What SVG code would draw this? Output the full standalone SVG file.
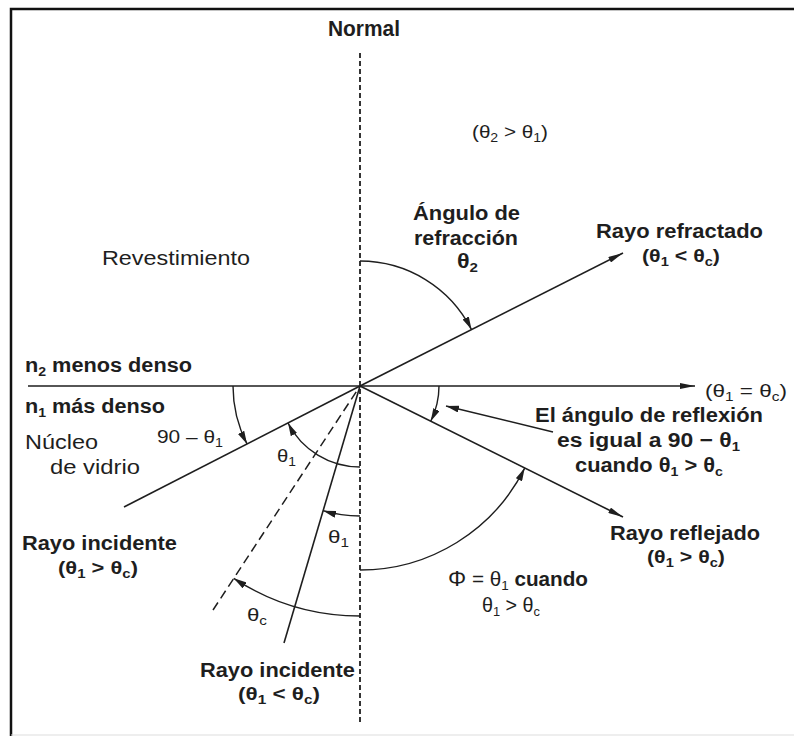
<svg xmlns="http://www.w3.org/2000/svg" width="794" height="736" viewBox="0 0 794 736">
<defs>
<style>
text{font-family:"Liberation Sans",Arial,sans-serif;fill:#1e1e1e}
.b{font-weight:bold;font-size:20px}
.r{font-weight:normal;font-size:20px}
.s{font-size:13px}
.ln{stroke:#1e1e1e;stroke-width:1.6;fill:none}
.arc{stroke:#1e1e1e;stroke-width:1.4;fill:none}
.dn{stroke:#1e1e1e;stroke-width:1.8;fill:none;stroke-dasharray:5 3}
.dr{stroke:#1e1e1e;stroke-width:1.5;fill:none;stroke-dasharray:9 5}
</style>
<marker id="big" viewBox="0 0 15 6" refX="15" refY="3" markerWidth="15" markerHeight="6" markerUnits="userSpaceOnUse" orient="auto"><path d="M0,0 L15,3 L0,6 z" fill="#1e1e1e"/></marker>
<marker id="sm" viewBox="0 0 13 7" refX="13" refY="3.5" markerWidth="13" markerHeight="7" markerUnits="userSpaceOnUse" orient="auto"><path d="M0,0 L13,3.5 L0,7 z" fill="#1e1e1e"/></marker>
</defs>
<rect width="794" height="736" fill="#fff"/>
<path d="M11,736 V9 H794" stroke="#111" stroke-width="2.5" fill="none"/>
<line x1="11" y1="735" x2="794" y2="735" stroke="#ddd" stroke-width="1"/>

<g id="connectors">
<line class="dn" x1="360" y1="53" x2="360" y2="722"/>
<line class="ln" x1="28" y1="386" x2="695" y2="386" marker-end="url(#big)"/>
<line class="ln" x1="360" y1="386" x2="623" y2="253" marker-end="url(#big)"/>
<line class="ln" x1="360" y1="386" x2="623" y2="517" marker-end="url(#big)"/>
<line class="ln" x1="124" y1="507" x2="360" y2="386"/>
<line class="ln" x1="284" y1="643" x2="360" y2="386"/>
<line class="dr" x1="213" y1="610" x2="360" y2="386"/>
<path class="arc" d="M360,261 A125,125 0 0 1 471.5,329.6" marker-end="url(#sm)"/>
<path class="arc" d="M233,386 A127,127 0 0 0 247,443.9" marker-end="url(#sm)"/>
<path class="arc" d="M360,467 A81,81 0 0 1 288,423" marker-end="url(#sm)"/>
<path class="arc" d="M360,516 A130,130 0 0 1 323.1,510.7" marker-end="url(#sm)"/>
<path class="arc" d="M360,616 A230,230 0 0 1 233.7,578.3" marker-end="url(#sm)"/>
<path class="arc" d="M360,570 A184,184 0 0 0 524.7,468.1" marker-end="url(#sm)"/>
<path class="arc" d="M439,386 A79,79 0 0 1 430.7,421.2" marker-end="url(#sm)"/>
<line class="arc" x1="553" y1="432" x2="446" y2="406" marker-end="url(#sm)"/>
</g>

<g id="normal"><text class="b" x="328" y="36" style="font-size:22px" textLength="72" lengthAdjust="spacingAndGlyphs">Normal</text></g>
<g id="cond-theta2"><text class="r" x="472" y="138" style="font-size:19px" textLength="76" lengthAdjust="spacingAndGlyphs">(θ<tspan class="s" dy="4">2</tspan><tspan dy="-4"> &gt; θ</tspan><tspan class="s" dy="4">1</tspan><tspan dy="-4">)</tspan></text></g>
<g id="angulo-refraccion">
<text class="b" x="413" y="220" textLength="107" lengthAdjust="spacingAndGlyphs">Ángulo de</text>
<text class="b" x="414" y="245" textLength="104" lengthAdjust="spacingAndGlyphs">refracción</text>
<text class="b" x="457" y="268" textLength="21" lengthAdjust="spacingAndGlyphs">θ<tspan class="s" dy="4">2</tspan></text>
</g>
<g id="rayo-refractado">
<text class="b" x="596" y="238" textLength="167" lengthAdjust="spacingAndGlyphs">Rayo refractado</text>
<text class="b" x="642" y="262" style="font-size:19px" textLength="78" lengthAdjust="spacingAndGlyphs">(θ<tspan class="s" dy="4">1</tspan><tspan dy="-4"> &lt; θ</tspan><tspan class="s" dy="4">c</tspan><tspan dy="-4">)</tspan></text>
</g>
<g id="revestimiento"><text class="r" x="102" y="265" textLength="148" lengthAdjust="spacingAndGlyphs">Revestimiento</text></g>
<g id="n2"><text class="b" x="25" y="372" textLength="167" lengthAdjust="spacingAndGlyphs">n<tspan class="s" dy="4">2</tspan><tspan dy="-4"> menos denso</tspan></text></g>
<g id="n1"><text class="b" x="25" y="413" textLength="140" lengthAdjust="spacingAndGlyphs">n<tspan class="s" dy="4">1</tspan><tspan dy="-4"> más denso</tspan></text></g>
<g id="ang-90"><text class="r" x="157" y="443" style="font-size:19px" textLength="66" lengthAdjust="spacingAndGlyphs">90 – θ<tspan class="s" dy="4">1</tspan></text></g>
<g id="nucleo">
<text class="r" x="25" y="449" textLength="73" lengthAdjust="spacingAndGlyphs">Núcleo</text>
<text class="r" x="50" y="474" textLength="90" lengthAdjust="spacingAndGlyphs">de vidrio</text>
</g>
<g id="theta1-a"><text class="r" x="277" y="462" style="font-size:19px" textLength="19" lengthAdjust="spacingAndGlyphs">θ<tspan class="s" dy="4">1</tspan></text></g>
<g id="critico"><text class="r" x="705" y="397" style="font-size:19px" textLength="82" lengthAdjust="spacingAndGlyphs">(θ<tspan class="s" dy="4">1</tspan><tspan dy="-4"> = θ</tspan><tspan class="s" dy="4">c</tspan><tspan dy="-4">)</tspan></text></g>
<g id="reflexion">
<text class="b" x="535" y="422" textLength="228" lengthAdjust="spacingAndGlyphs">El ángulo de reflexión</text>
<text class="b" x="557" y="447" textLength="183" lengthAdjust="spacingAndGlyphs">es igual a 90 − θ<tspan class="s" dy="4">1</tspan></text>
<text class="b" x="575" y="472" textLength="148" lengthAdjust="spacingAndGlyphs">cuando θ<tspan class="s" dy="4">1</tspan><tspan dy="-4"> &gt; θ</tspan><tspan class="s" dy="4">c</tspan></text>
</g>
<g id="theta1-b"><text class="r" x="328" y="543" style="font-size:19px" textLength="21" lengthAdjust="spacingAndGlyphs">θ<tspan class="s" dy="4">1</tspan></text></g>
<g id="rayo-incidente-1">
<text class="b" x="22" y="550" textLength="155" lengthAdjust="spacingAndGlyphs">Rayo incidente</text>
<text class="b" x="58" y="574" style="font-size:19px" textLength="80" lengthAdjust="spacingAndGlyphs">(θ<tspan class="s" dy="4">1</tspan><tspan dy="-4"> &gt; θ</tspan><tspan class="s" dy="4">c</tspan><tspan dy="-4">)</tspan></text>
</g>
<g id="theta-c"><text class="r" x="247" y="621" style="font-size:19px" textLength="20" lengthAdjust="spacingAndGlyphs">θ<tspan class="s" dy="4">c</tspan></text></g>
<g id="rayo-incidente-2">
<text class="b" x="200" y="677" textLength="155" lengthAdjust="spacingAndGlyphs">Rayo incidente</text>
<text class="b" x="238" y="700" style="font-size:19px" textLength="82" lengthAdjust="spacingAndGlyphs">(θ<tspan class="s" dy="4">1</tspan><tspan dy="-4"> &lt; θ</tspan><tspan class="s" dy="4">c</tspan><tspan dy="-4">)</tspan></text>
</g>
<g id="rayo-reflejado">
<text class="b" x="610" y="540" textLength="150" lengthAdjust="spacingAndGlyphs">Rayo reflejado</text>
<text class="b" x="647" y="563" style="font-size:19px" textLength="78" lengthAdjust="spacingAndGlyphs">(θ<tspan class="s" dy="4">1</tspan><tspan dy="-4"> &gt; θ</tspan><tspan class="s" dy="4">c</tspan><tspan dy="-4">)</tspan></text>
</g>
<g id="phi">
<text class="r" x="448" y="586" textLength="140" lengthAdjust="spacingAndGlyphs"><tspan style="font-size:22px">Φ</tspan> = θ<tspan class="s" dy="4">1</tspan><tspan dy="-4" font-weight="bold"> cuando</tspan></text>
<text class="r" x="482" y="612" textLength="58" lengthAdjust="spacingAndGlyphs">θ<tspan class="s" dy="4">1</tspan><tspan dy="-4"> &gt; θ</tspan><tspan class="s" dy="4">c</tspan></text>
</g>
</svg>
